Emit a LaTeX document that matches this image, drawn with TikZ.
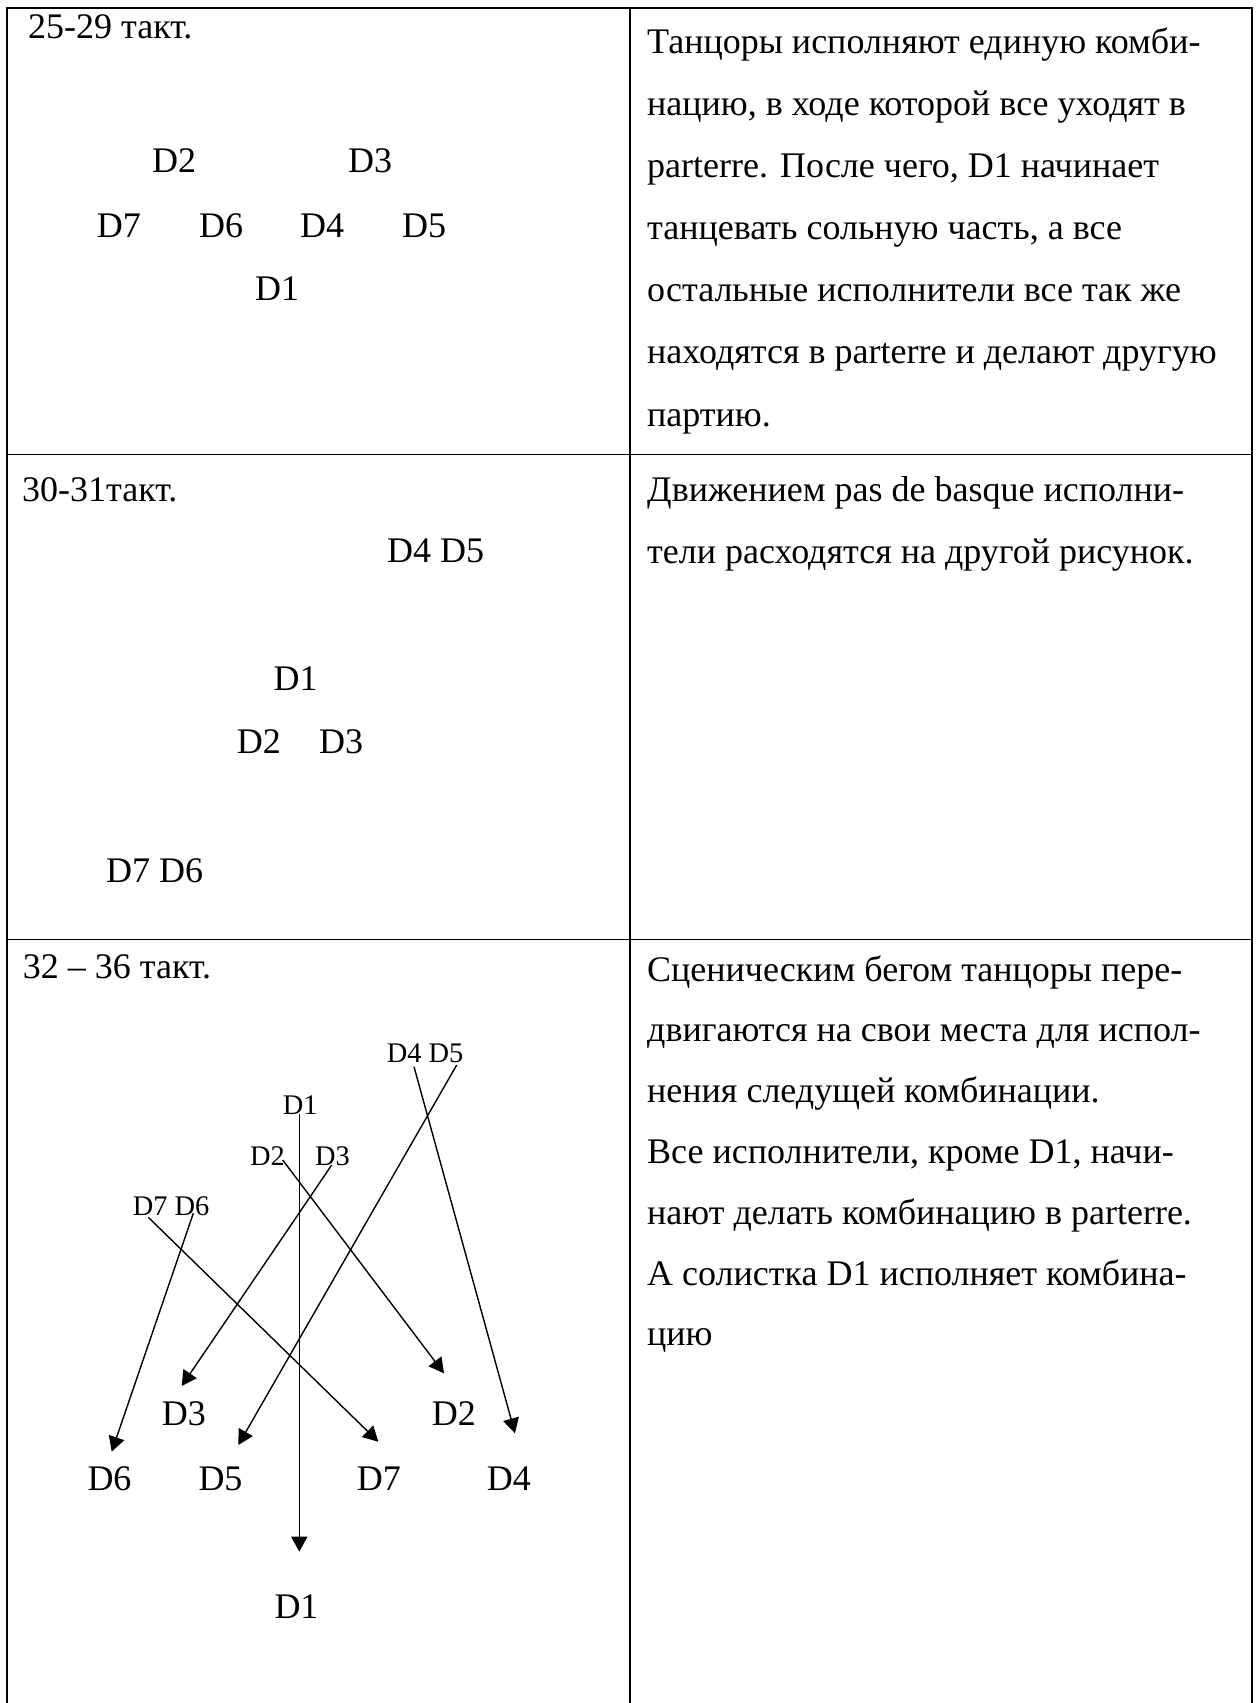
\documentclass[tikz,border=0pt]{standalone}
\usepackage{fontspec}
\setmainfont{Liberation Serif}
\usetikzlibrary{arrows.meta}
\begin{document}
\begin{tikzpicture}[x=1pt,y=-1pt,
  rule/.style={line width=1.8pt},
  txt/.style={anchor=base west,inner sep=0pt,font=\fontsize{36}{40}\selectfont},
  small/.style={anchor=base west,inner sep=0pt,font=\fontsize{28.4}{32}\selectfont},
  move/.style={line width=1.4pt,-{Triangle[width=16pt,length=15pt]}}]
\useasboundingbox (0,0) rectangle (1256,1703);
\fill[white] (0,0) rectangle (1256,1703);

% table frame
\draw[rule] (7,1710) -- (7,8.3) -- (1252,8.3) -- (1252,1710);
\draw[rule] (630,8.3) -- (630,1710);
\draw[rule] (7,454.5) -- (1252,454.5);
\draw[rule] (7,939.5) -- (1252,939.5);

% ---- row 1: bars 25-29 ----
\node[txt] (h1) at (28,38.5) {25-29 такт.};
\node[txt] (a2) at (152,172) {D2};
\node[txt] (a3) at (348,172) {D3};
\node[txt] (a7) at (96.7,237) {D7};
\node[txt] (a6) at (199,237) {D6};
\node[txt] (a4) at (300,237) {D4};
\node[txt] (a5) at (402,237) {D5};
\node[txt] (a1) at (255,300) {D1};

\node[txt] (t11) at (647,53.4)  {Танцоры исполняют единую комби-};
\node[txt] (t12) at (647,115.5) {нацию, в ходе которой все уходят в};
\node[txt] (t13) at (647,177.6) {parterre. После чего, D1 начинает};
\node[txt] (t14) at (647,239.7) {танцевать сольную часть, а все};
\node[txt] (t15) at (647,301.8) {остальные исполнители все так же};
\node[txt] (t16) at (647,363.9) {находятся в parterre и делают другую};
\node[txt] (t17) at (647,426)   {партию.};

% ---- row 2: bars 30-31 ----
\node[txt] (h2) at (22,501) {30-31такт.};
\node[txt] (b45) at (387,562) {D4 D5};
\node[txt] (b1) at (273.5,690) {D1};
\node[txt] (b2) at (236.7,753) {D2};
\node[txt] (b3) at (319,753) {D3};
\node[txt] (b76) at (106,882) {D7 D6};

\node[txt] (t21) at (647,501) {Движением pas de basque исполни-};
\node[txt] (t22) at (647,563) {тели расходятся на другой рисунок.};

% ---- row 3: bars 32-36 ----
\node[txt] (h3) at (22.7,978) {32 – 36 такт.};

% starting places
\node[small] (c45) at (386.7,1062.7) {D4 D5};
\node[small] (c1) at (282.7,1114.3) {D1};
\node[small] (c2) at (250,1165) {D2};
\node[small] (c3) at (315,1165) {D3};
\node[small] (c76) at (132.7,1215) {D7 D6};

% final places
\node[txt] (d3) at (161.7,1425) {D3};
\node[txt] (d2) at (431.7,1425) {D2};
\node[txt] (d6) at (87.3,1490) {D6};
\node[txt] (d5) at (198.3,1490) {D5};
\node[txt] (d7) at (356.7,1490) {D7};
\node[txt] (d4) at (486.7,1490) {D4};
\node[txt] (d1) at (274.3,1618.3) {D1};

% path ends
\coordinate (s1) at (299.3,1114.3);  \coordinate (e1) at (299.3,1551.7);
\coordinate (s4) at (414,1066.7);    \coordinate (e4) at (515,1433.3);
\coordinate (s5) at (456.7,1065);    \coordinate (e5) at (238.3,1445);
\coordinate (s2) at (282.7,1160);    \coordinate (e2) at (444,1373.3);
\coordinate (s3) at (331.7,1165);    \coordinate (e3) at (181.7,1386);
\coordinate (s7) at (148.3,1217.3);  \coordinate (e7) at (378.3,1441.7);
\coordinate (s6) at (193.3,1213.3);  \coordinate (e6) at (111.7,1451.7);

\draw[move] (s1) -- (e1);
\draw[move] (s4) -- (e4);
\draw[move] (s5) -- (e5);
\draw[move] (s2) -- (e2);
\draw[move] (s3) -- (e3);
\draw[move] (s7) -- (e7);
\draw[move] (s6) -- (e6);

\node[txt] (t31) at (647,981)    {Сценическим бегом танцоры пере-};
\node[txt] (t32) at (647,1041.8) {двигаются на свои места для испол-};
\node[txt] (t33) at (647,1102.6) {нения следущей комбинации.};
\node[txt] (t34) at (647,1163.4) {Все исполнители, кроме D1, начи-};
\node[txt] (t35) at (647,1224.2) {нают делать комбинацию в parterre.};
\node[txt] (t36) at (647,1285)   {А солистка D1 исполняет комбина-};
\node[txt] (t37) at (647,1345.8) {цию};
\end{tikzpicture}
\end{document}
